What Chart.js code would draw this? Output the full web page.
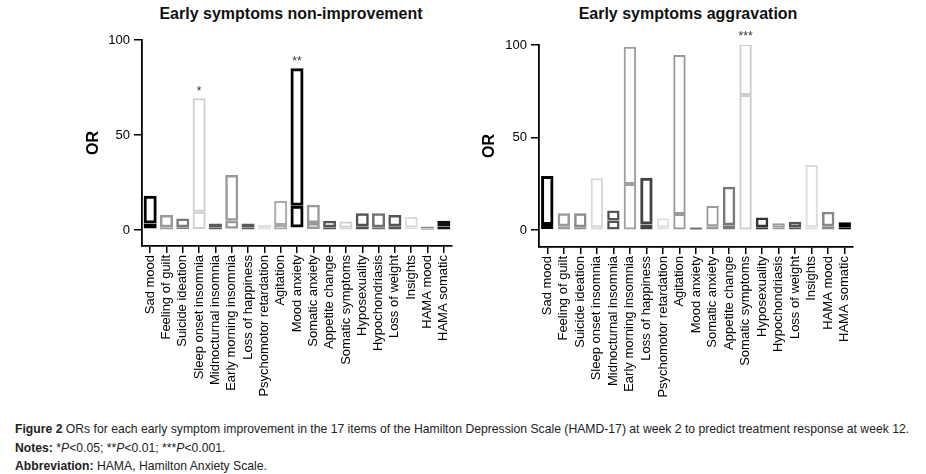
<!DOCTYPE html>
<html><head><meta charset="utf-8">
<script src="https://cdn.jsdelivr.net/npm/chart.js@4"></script>
<style>
body{margin:0;background:#fff;width:926px;height:474px;position:relative;overflow:hidden;font-family:"Liberation Sans",Arial,sans-serif}
canvas{position:absolute;top:0}
.ttl{position:absolute;top:5px;font-weight:bold;font-size:16px;transform:translateX(-50%);white-space:nowrap;color:#111}
.cap{position:absolute;left:15px;font-size:12.2px;white-space:nowrap;color:#222}
</style></head><body>
<div class="ttl" style="left:291px">Early symptoms non-improvement</div>
<div class="ttl" style="left:688px">Early symptoms aggravation</div>
<canvas id="c1" width="463" height="410" style="left:0"></canvas>
<canvas id="c2" width="463" height="410" style="left:463px"></canvas>
<div class="cap" style="top:422px"><b>Figure 2</b> ORs for each early symptom improvement in the 17 items of the Hamilton Depression Scale (HAMD-17) at week 2 to predict treatment response at week 12.</div>
<div class="cap" style="top:441px"><b>Notes:</b> *<i>P</i>&lt;0.05; **<i>P</i>&lt;0.01; ***<i>P</i>&lt;0.001.</div>
<div class="cap" style="top:459px"><b>Abbreviation:</b> HAMA, Hamilton Anxiety Scale.</div>
<script>
const categories = ["Sad mood","Feeling of guilt","Suicide ideation","Sleep onset insomnia","Midnocturnal insomnia","Early morning insomnia","Loss of happiness","Psychomotor retardation","Agitation","Mood anxiety","Somatic anxiety","Appetite change","Somatic symptoms","Hyposexuality","Hypochondriasis","Loss of weight","Insights","HAMA mood","HAMA somatic"];
const yTickValues = [0, 50, 100];

// Early symptoms non-improvement
const leftLow  = [0.8,0.3,0.5,0.5,0.3,0.7,0.3,0.2,0.3,1.4,0.5,0.3,0.3,0.3,0.3,0.3,0.5,0.2,0.3];
const leftOR   = [3.5,1.5,1.5,9.6,1.5,4.9,1.5,1.0,2.6,12.8,3.7,1.5,1.2,2.0,1.5,2.0,1.5,0.8,1.8];
const leftHigh = [18,7.9,6.1,69.3,3.5,28.9,3.5,2.6,15.3,85.1,13.3,4.9,4.5,8.8,8.8,7.9,6.8,1.8,4.9];
const leftSig  = ["","","","*","","","","","","**","","","","","","","","",""];

// Early symptoms aggravation
const rightLow  = [0.5,0.3,0.3,0.3,0.3,0.3,0.3,0.3,0.2,0.2,0.3,0.3,0.3,0.3,0.3,0.3,0.3,0.3,0.3];
const rightOR   = [2.7,2.0,1.5,1.5,5.1,24.9,3.0,1.5,8.6,0.7,2.0,2.5,73,1.5,1.2,1.5,1.5,2.0,1.5];
const rightHigh = [29.2,9.0,9.0,27.9,10.5,99.1,28.3,6.3,94.6,1.3,13,23.4,100.5,6.7,3.6,4.5,35.1,9.9,4.2];
const rightSig  = ["","","","","","","","","","","","","***","","","","","",""];

// styles
const leftColors  = ["#000","#9a9a9a","#7a7a7a","#cfcfcf","#5a5a5a","#9a9a9a","#5a5a5a","#e0e0e0","#a8a8a8","#000","#9a9a9a","#555","#d0d0d0","#505050","#6e6e6e","#555","#dcdcdc","#8a8a8a","#111"];
const leftWidths  = [3,2.5,2.5,2,2.5,2.5,2.5,2,2,3,2.5,2.5,2,2.5,2.5,2.5,2,2,3];
const leftFills   = leftColors.map(() => "rgba(0,0,0,0)");
const rightColors = ["#000","#999","#8a8a8a","#d8d8d8","#555","#a0a0a0","#444","#e0e0e0","#999","#000","#999","#777","#ccc","#333","#999","#555","#dcdcdc","#888","#000"];
const rightWidths = [3,2.5,2.5,2,2.5,2,3,2,2,3,2,2.5,2,2.5,2,2.5,2,2.5,3];
const rightFills  = rightColors.map((c, i) => i === 9 ? "#000" : "rgba(0,0,0,0)");

const sigPlugin = {
  id: 'sig',
  afterDatasetsDraw(chart, args, opts) {
    const {ctx, scales:{x, y}} = chart;
    ctx.save();
    ctx.font = '12px "Liberation Sans", Arial';
    ctx.fillStyle = '#333';
    ctx.textAlign = 'center';
    ctx.textBaseline = 'bottom';
    opts.marks.forEach((m, i) => {
      if (!m) return;
      ctx.fillText(m, x.getPixelForValue(i), y.getPixelForValue(opts.high[i]) - 1);
    });
    ctx.restore();
  }
};

function makeChart(id, low, or, high, sig, colors, widths, fills, cfg) {
  const lower = low.map((v, i) => [v, or[i]]);
  const upper = or.map((v, i) => [v, high[i]]);
  const ds = (data) => ({
    data, grouped: false, backgroundColor: fills,
    borderColor: colors, borderWidth: widths, borderSkipped: false,
    barPercentage: cfg.barPct, categoryPercentage: 1
  });
  return new Chart(document.getElementById(id), {
    type: 'bar',
    data: { labels: categories, datasets: [ds(lower), ds(upper)] },
    plugins: [sigPlugin],
    options: {
      responsive: false, animation: false,
      layout: { padding: cfg.padding },
      plugins: { legend: {display: false}, tooltip: {enabled: false}, sig: {marks: sig, high} },
      scales: {
        x: {
          offset: true,
          grid: { display: true, drawOnChartArea: false, offset: false, tickLength: 7, color: '#000', lineWidth: 1.5 },
          border: { color: '#000', width: 1.8 },
          ticks: { autoSkip: false, maxRotation: 90, minRotation: 90, color: '#000', padding: 2,
                   font: { family: '"Liberation Sans", Arial', size: 13 } },
          afterFit: s => { s.height = cfg.xHeight; }
        },
        y: {
          min: cfg.yMin, max: 100,
          afterBuildTicks: s => { s.ticks = yTickValues.map(v => ({value: v})); },
          grid: { display: true, drawOnChartArea: false, tickLength: 8, color: '#000', lineWidth: 1.5 },
          border: { color: '#000', width: 1.8 },
          ticks: { color: '#000', padding: 4, font: { family: '"Liberation Sans", Arial', size: 13 } },
          title: { display: true, text: 'OR', color: '#000', padding: {top: 4, bottom: 0},
                   font: { family: '"Liberation Sans", Arial', size: 16, weight: 'bold' } },
          afterFit: s => { s.width = cfg.yWidth; }
        }
      }
    }
  });
}

makeChart('c1', leftLow, leftOR, leftHigh, leftSig, leftColors, leftWidths, leftFills,
  { padding: {left: 80, top: 40, right: 11, bottom: 0}, yWidth: 62, xHeight: 164, yMin: -8.4, barPct: 0.8 });
makeChart('c2', rightLow, rightOR, rightHigh, rightSig, rightColors, rightWidths, rightFills,
  { padding: {left: 13, top: 45, right: 73, bottom: 0}, yWidth: 63, xHeight: 163, yMin: -9.2, barPct: 0.75 });
</script>
</body></html>
